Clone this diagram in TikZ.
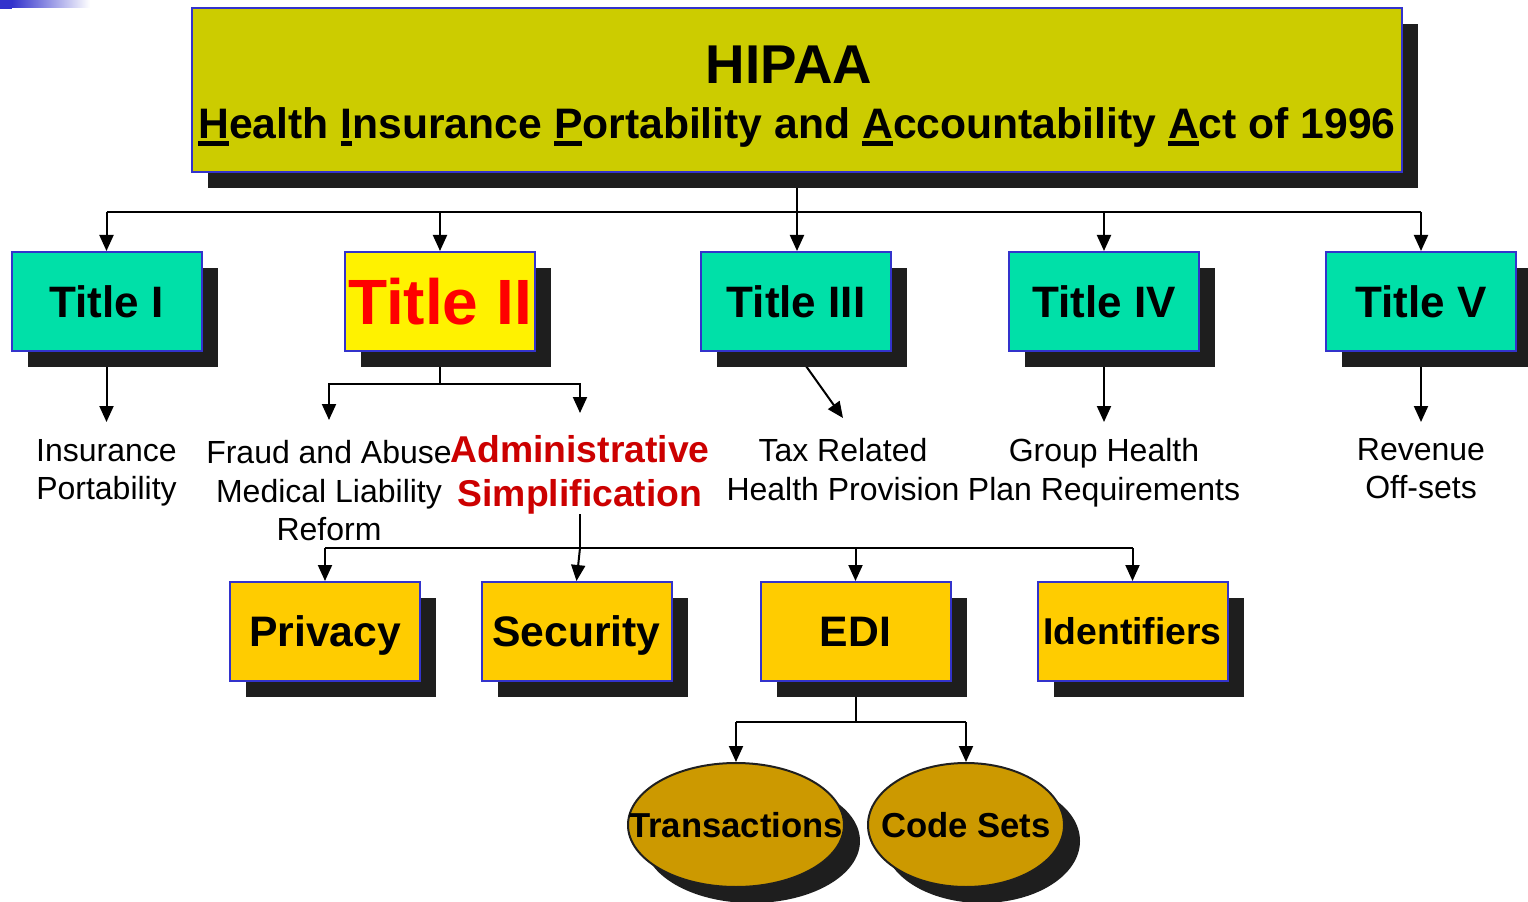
\documentclass[tikz,border=0pt]{standalone}
\usepackage{fontspec}
\setmainfont{Liberation Sans}
\usetikzlibrary{shapes.geometric,shadows,arrows.meta,calc}
\definecolor{hdrfill}{HTML}{CCCC00}
\definecolor{edgeblue}{HTML}{3333CC}
\definecolor{titlegreen}{HTML}{00E0A8}
\definecolor{gold}{HTML}{FFCC00}
\definecolor{ochre}{HTML}{CC9900}
\definecolor{shadowgray}{HTML}{1E1E1E}
\definecolor{adminred}{HTML}{CC0000}
\definecolor{barblue}{HTML}{3333CC}
\pgfdeclarelayer{background}
\pgfsetlayers{background,main}
% initial letter with a heavy underline bar
\newcommand\ulchar[1]{\setbox0\hbox{#1}\rlap{\rule[-0.16em]{\wd0}{0.11em}}\box0}
\begin{document}
\begin{tikzpicture}[x=0.75pt,y=-0.75pt,
  shadowed/.style={drop shadow={shadow xshift=12pt,shadow yshift=-12pt,opacity=1,fill=shadowgray}},
  box/.style={rectangle,draw=edgeblue,line width=1.5pt,inner sep=0pt,shadowed,
    minimum width=142.5pt,minimum height=74.25pt},
  titlebox/.style={box,fill=titlegreen,font=\fontsize{33}{40}\selectfont\bfseries},
  partbox/.style={box,fill=gold,font=\fontsize{32}{38}\selectfont\bfseries,
    text height=23pt,text depth=0pt},
  oval/.style={ellipse,draw=black!88,line width=1.5pt,fill=ochre,inner sep=0pt,shadowed,
    minimum height=93pt},
  ovaltext/.style={font=\fontsize{26}{31}\selectfont\bfseries,inner sep=0pt,
    text height=18.6pt,text depth=0pt},
  lbl/.style={align=center,anchor=north,inner xsep=0pt,font=\fontsize{24}{29}\selectfont},
  conn/.style={line width=1.5pt,black},
  arr/.style={conn,-{Triangle[width=10.5pt,length=12pt]}}]
\useasboundingbox (0,0) rectangle (1528,902);

% corner bar
\fill[barblue] (0,0) rectangle (12,9);
\shade[left color=barblue,right color=white] (12,0) rectangle (90,8);

% act header
\node[box,fill=hdrfill,minimum width=907.5pt,minimum height=123pt] (hdr) at (797,90) {};
\node[anchor=base,inner sep=0pt,font=\fontsize{41}{48}\selectfont\bfseries] (hdrA) at (789,84) {HIPAA};
\node[anchor=base,inner sep=0pt,font=\fontsize{32}{38}\selectfont\bfseries] (hdrB) at (797,139)
  {\ulchar{H}ealth \ulchar{I}nsurance \ulchar{P}ortability and \ulchar{A}ccountability \ulchar{A}ct of 1996};

% titles
\node[titlebox] (t1) at (106.5,301.5) {Title I};
\node[box,fill=yellow,text=red,font=\fontsize{48}{56}\selectfont\bfseries] (t2) at (440,301.5) {Title II};
\node[titlebox] (t3) at (796,301.5) {Title III};
\node[titlebox] (t4) at (1104,301.5) {Title IV};
\node[titlebox] (t5) at (1421,301.5) {Title V};

% title contents
\node[lbl,inner ysep=12.75pt] (l1) at (106.5,422) {Insurance\\Portability};
\node[lbl,inner ysep=15pt] (l2) at (329,420) {Fraud and Abuse\\Medical Liability\\Reform};
\node[align=center,anchor=north,inner sep=0pt,text=adminred,
  font=\fontsize{28}{33}\selectfont\bfseries] (adm) at (580,435) {Administrative\\Simplification};
\node[lbl,inner ysep=15pt] (l3) at (843,418) {Tax Related\\Health Provision};
\node[lbl,inner ysep=12pt] (l4) at (1104,422) {Group Health\\Plan Requirements};
\node[lbl,inner ysep=12pt] (l5) at (1421,422) {Revenue\\Off-sets};

% administrative simplification parts
\node[partbox] (pri) at (325,631.5) {Privacy};
\node[partbox] (sec) at (576.5,631.5) {Security};
\node[partbox] (edi) at (855.5,631.5) {EDI};
\node[partbox,font=\fontsize{28}{34}\selectfont\bfseries,text height=20pt] (idf) at (1132.5,631.5) {Identifiers};

% EDI parts
\node[oval,minimum width=162pt] (e1) at (736,825) {};
\node[ovaltext] (e1t) at (e1.center) {Transactions};
\node[oval,minimum width=147pt] (e2) at (966,825) {};
\node[ovaltext] (e2t) at (e2.center) {Code Sets};

% connectors
\coordinate (bus) at (0,212);
\coordinate (j2) at (440,384);
\coordinate (j3) at (580,548);
\coordinate (j4) at (855.5,722);
\begin{pgfonlayer}{background}
\draw[conn] (t1.north |- bus) -- (t5.north |- bus);
\draw[arr] (hdr.south) -- (hdr.south |- t3.north);
\foreach \t in {t1,t2,t4,t5} \draw[arr] (\t.north |- bus) -- (\t.north);
\draw[arr] (t1.south) -- (l1.north);
\draw[conn] (t2.south) -- (j2);
\draw[arr] (j2) -| (l2.north);
\draw[arr] (j2) -| ([yshift=16.5pt]adm.north);
\draw[arr] (t3.south) -- (l3.north);
\draw[arr] (t4.south) -- (l4.north);
\draw[arr] (t5.south) -- (l5.north);
\draw[conn] (adm.south) -- (j3);
\draw[conn] (pri.north |- j3) -- (idf.north |- j3);
\draw[arr] (pri.north |- j3) -- (pri.north);
\draw[arr] (j3) -- (sec.north);
\draw[arr] (edi.north |- j3) -- (edi.north);
\draw[arr] (idf.north |- j3) -- (idf.north);
\draw[conn] (edi.south) -- (j4);
\draw[conn] (e1.north |- j4) -- (e2.north |- j4);
\draw[arr] (e1.north |- j4) -- (e1.north);
\draw[arr] (e2.north |- j4) -- (e2.north);
\end{pgfonlayer}
\end{tikzpicture}
\end{document}
